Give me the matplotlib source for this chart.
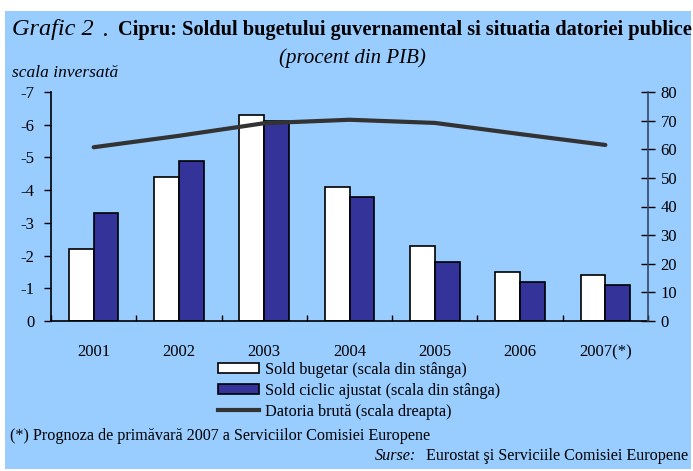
import matplotlib
matplotlib.use("Agg")
import matplotlib.pyplot as plt
from matplotlib.patches import Rectangle, Patch
from matplotlib.lines import Line2D
import numpy as np

years = ["2001", "2002", "2003", "2004", "2005", "2006", "2007(*)"]
sold_bugetar = [-2.2, -4.4, -6.3, -4.1, -2.3, -1.5, -1.4]
sold_ciclic = [-3.3, -4.9, -6.1, -3.8, -1.8, -1.2, -1.1]
datoria = [60.7, 64.7, 69.1, 70.3, 69.2, 65.3, 61.5]

W, H = 693, 471
fig = plt.figure(figsize=(W / 100, H / 100), dpi=100)
fig.patch.set_facecolor("white")
BG = "#99CCFF"
fig.patches.append(Rectangle((5 / W, 1 - 469 / H), (691 - 5) / W, (469 - 11) / H,
                             transform=fig.transFigure, facecolor=BG, edgecolor="none", zorder=-10))

serif = "Liberation Serif"
FS = 12
ax = fig.add_axes([51 / W, 1 - 321 / H, (648 - 51) / W, (321 - 92) / H])
ax.set_facecolor("none")
x = np.arange(len(years))
bw = 0.29
ax.bar(x - bw / 2, sold_bugetar, bw, color="white", edgecolor="black", linewidth=1.2, zorder=2)
ax.bar(x + bw / 2, sold_ciclic, bw, color="#333399", edgecolor="black", linewidth=1.2, zorder=2)
ax.set_ylim(0, -7)
ax.set_xlim(-0.5, len(years) - 0.5)
ax.set_yticks(np.arange(0, -8, -1))
ax.set_yticklabels([str(v) for v in range(0, -8, -1)], family=serif, fontsize=FS)
ax.set_xticks(np.arange(-0.5, len(years), 1))
ax.set_xticklabels([])
ax.tick_params(axis="x", direction="in", length=4, width=1)
ax.tick_params(axis="y", direction="out", length=5, width=1, pad=7)
for i, yl in enumerate(years):
    ax.text(i, -0.1, yl, transform=ax.get_xaxis_transform(), ha="center", va="top",
            family=serif, fontsize=FS)
ax.spines["top"].set_visible(False)
ax.spines["right"].set_visible(False)
for s in ["left", "bottom"]:
    ax.spines[s].set_linewidth(1.2)

ax2 = ax.twinx()
ax2.set_facecolor("none")
ax2.plot(x, datoria, color="#333333", linewidth=3, solid_capstyle="round", zorder=3)
ax2.set_ylim(0, 80)
ax2.set_yticks(range(0, 81, 10))
ax2.set_yticklabels([str(v) for v in range(0, 81, 10)], family=serif, fontsize=FS)
ax2.tick_params(axis="y", direction="inout", length=10, width=1, pad=4)
ax2.spines["top"].set_visible(False)
ax2.spines["left"].set_visible(False)
ax2.spines["bottom"].set_visible(False)
ax2.spines["right"].set_linewidth(1.2)
ax2.spines["right"].set_color("#334466")

# Title
fig.text(12 / W, 1 - 30 / H, "Grafic 2", family=serif, style="italic", fontsize=17.5, va="center", ha="left")
fig.text(103 / W, 1 - 30 / H, ".", family=serif, style="italic", fontsize=17.5, va="center", ha="left")
fig.text(118 / W, 1 - 30 / H, "Cipru: Soldul bugetului guvernamental si situatia datoriei publice",
         family=serif, weight="bold", fontsize=14.65, va="center", ha="left")
fig.text(352 / W, 1 - 58 / H, "(procent din PIB)", family=serif, style="italic", fontsize=15,
         va="center", ha="center")
fig.text(12 / W, 1 - 73 / H, "scala inversată", family=serif, style="italic", fontsize=12.5,
         va="center", ha="left")

handles = [Patch(facecolor="white", edgecolor="black", linewidth=1.2),
           Patch(facecolor="#333399", edgecolor="black", linewidth=1.2),
           Line2D([], [], color="#333333", linewidth=3)]
labels = ["Sold bugetar (scala din stânga)", "Sold ciclic ajustat (scala din stânga)",
          "Datoria brută (scala dreapta)"]
fig.legend(handles, labels, loc="upper left", bbox_to_anchor=(218 / W, 1 - 362 / H), frameon=False,
           prop={"family": serif, "size": 11.7}, handlelength=2.5, handleheight=0.55,
           handletextpad=0.4, labelspacing=0.3, borderpad=0, borderaxespad=0)

fig.text(10 / W, 1 - 436 / H, "(*) Prognoza de primăvară 2007 a Serviciilor Comisiei Europene",
         family=serif, fontsize=11.6, va="center", ha="left")
fig.text(688 / W, 1 - 456 / H, "Eurostat şi Serviciile Comisiei Europene",
         family=serif, fontsize=11.6, va="center", ha="right")
fig.text(416 / W, 1 - 456 / H, "Surse:", family=serif, style="italic", fontsize=11.6,
         va="center", ha="right")

fig.savefig("out.png", dpi=100, facecolor=fig.get_facecolor())
